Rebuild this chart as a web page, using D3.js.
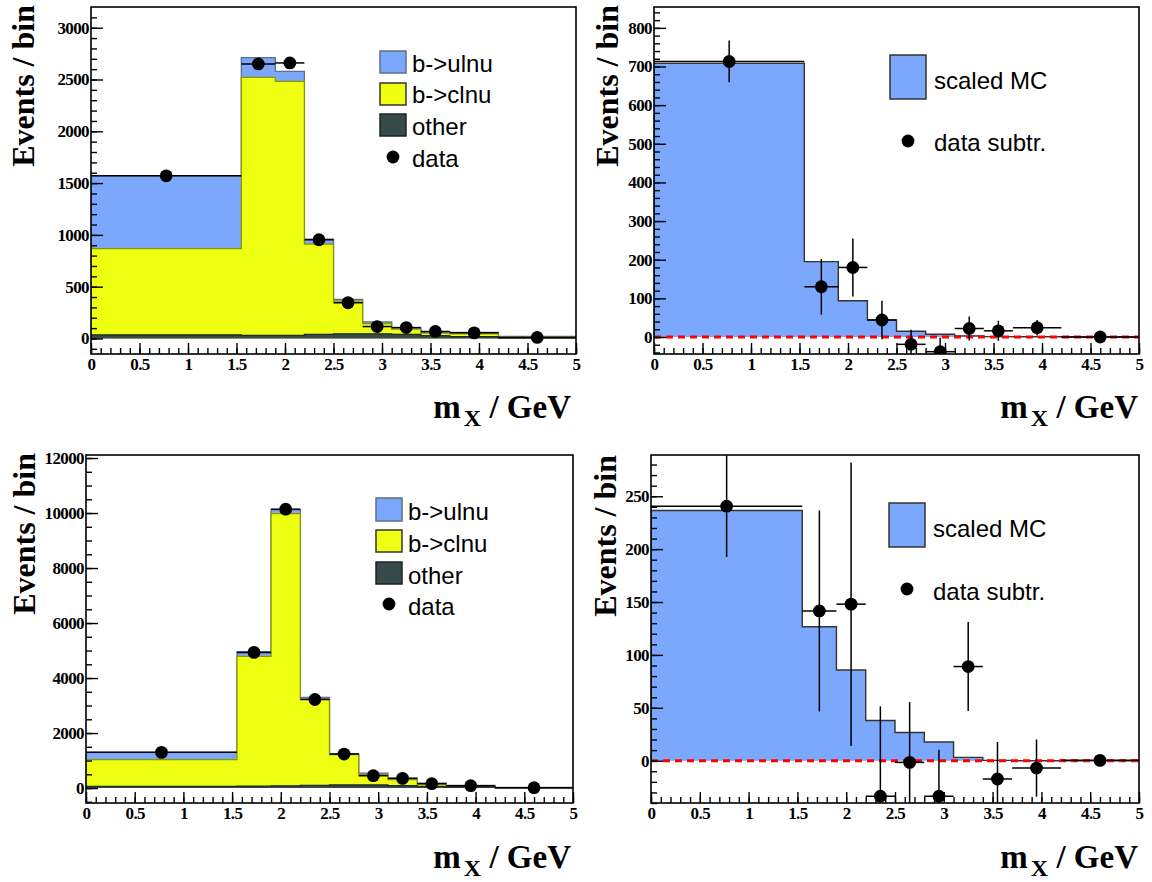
<!DOCTYPE html>
<html><head><meta charset="utf-8">
<script src="https://cdn.jsdelivr.net/npm/d3@7"></script>
<style>
  body { margin: 0; background: #fff; }
  svg { display: block; }
</style>
</head><body>
<svg id="fig" width="1152" height="882"></svg>
<script>
// m_X binning shared by all four histograms (GeV)
const binEdges   = [0, 1.55, 1.9, 2.2, 2.5, 2.8, 3.1, 3.4, 3.7, 4.2, 5.0];
const binCenters = [0.775, 1.725, 2.05, 2.35, 2.65, 2.95, 3.25, 3.55, 3.95, 4.6];

// Upper row: stacked MC components and data
const upOther = [35, 30, 30, 40, 45, 45, 40, 28, 18, 6];
const upClnu  = [832, 2490, 2452, 871, 316, 99, 50, 23, 27, 6];
const upUlnu  = [703, 192, 96, 48, 16, 16, 15, 13, 13, 7];
const upData  = [1570, 2650, 2660, 953, 345, 115, 105, 67, 54, 10];

// Upper row: background-subtracted data vs scaled b->ulnu MC
const upMC      = [708, 195, 94, 44, 15, 7, 3, 1, 0.5, 0];
const upSub     = [713, 130, 180, 44, -19, -38, 22, 16, 24, 0];
const upSubErr  = [54, 72, 75, 50, 38, 36, 31, 26, 20, 6];

// Lower row: stacked MC components and data
const loOther = [60, 70, 80, 100, 110, 110, 90, 60, 40, 10];
const loClnu  = [970, 4718, 9896, 3136, 1102, 375, 213, 85, 33, 8];
const loUlnu  = [267, 170, 145, 61, 36, 60, 61, 37, 24, 6];
const loData  = [1297, 4933, 10140, 3220, 1236, 448, 352, 158, 85, 12];

// Lower row: background-subtracted data vs scaled b->ulnu MC
const loMC     = [236.5, 126.6, 85.7, 38, 26.7, 17.6, 3.1, 0.3, 0, 0];
const loSub    = [240.6, 141.6, 148, -33.6, -1.6, -33.6, 89, -17.3, -7, 0.3];
const loSubErr = [48, 95, 134, 85, 57, 44, 42, 35, 27, 3];

// Axis tick values
const xTicks        = [0, 0.5, 1, 1.5, 2, 2.5, 3, 3.5, 4, 4.5, 5];
const yTicksUpStack = [0, 500, 1000, 1500, 2000, 2500, 3000];
const yTicksUpSub   = [0, 100, 200, 300, 400, 500, 600, 700, 800];
const yTicksLoStack = [0, 2000, 4000, 6000, 8000, 10000, 12000];
const yTicksLoSub   = [0, 50, 100, 150, 200, 250];

// Legend entries
const stackLegend = ["b->ulnu", "b->clnu", "other", "data"];
const subLegend   = ["scaled MC", "data subtr."];

const COL = {
  ulnu: "#7ba8fd", clnu: "#eeff11", other: "#364a4a",
  ulnuLine: "#5f6f86", clnuLine: "#8f9400", otherLine: "#1f2a2a"
};
const serif = "'Liberation Serif', 'Times New Roman', serif";
const sans  = "'Liberation Sans', Arial, Helvetica, sans-serif";

const svg = d3.select("#fig");

const panels = [
  { id: "p1", kind: "stack", box: {l: 91, r: 576, t: 7, b: 354}, ydom: [-150, 3200],
    yMajor: yTicksUpStack, yMinor: 100, other: upOther, clnu: upClnu, ulnu: upUlnu, data: upData,
    yTitle: {x: 34, y: 5}, xTitle: {x: 571, y: 418},
    leg: {bx: 380, bw: 26, tx: 412, rows: [{b: 51, h: 22, base: 72}, {b: 83, h: 22, base: 103}, {b: 114, h: 22, base: 135}], marker: {x: 393, y: 157}, dataBase: 167} },
  { id: "p2", kind: "sub", box: {l: 654, r: 1139, t: 7, b: 354}, ydom: [-44, 854],
    yMajor: yTicksUpSub, yMinor: 20, mc: upMC, sub: upSub, err: upSubErr,
    yTitle: {x: 618, y: 5}, xTitle: {x: 1138, y: 418},
    leg: {box: {x: 890, y: 55, w: 36, h: 44}, tx: 934, base1: 89, marker: {x: 908, y: 141}, base2: 151} },
  { id: "p3", kind: "stack", box: {l: 86, r: 573, t: 455, b: 803}, ydom: [-544, 12110],
    yMajor: yTicksLoStack, yMinor: 500, other: loOther, clnu: loClnu, ulnu: loUlnu, data: loData,
    yTitle: {x: 35, y: 453}, xTitle: {x: 571, y: 868},
    leg: {bx: 376, bw: 26, tx: 408, rows: [{b: 498, h: 23, base: 520}, {b: 530, h: 22, base: 552}, {b: 562, h: 22, base: 584}], marker: {x: 389, y: 604}, dataBase: 615} },
  { id: "p4", kind: "sub", box: {l: 651, r: 1139, t: 455, b: 803}, ydom: [-40, 289],
    yMajor: yTicksLoSub, yMinor: 10, mc: loMC, sub: loSub, err: loSubErr,
    yTitle: {x: 616, y: 455}, xTitle: {x: 1138, y: 868},
    leg: {box: {x: 889, y: 503, w: 36, h: 44}, tx: 933, base1: 537, marker: {x: 907, y: 589}, base2: 600} }
];

// Step outline through bin contents, dropping to zero at both ends
function stepPoints(vals) {
  const pts = [[binEdges[0], 0]];
  vals.forEach((v, i) => { pts.push([binEdges[i], v]); pts.push([binEdges[i + 1], v]); });
  pts.push([binEdges[binEdges.length - 1], 0]);
  return pts;
}

function drawPanel(p) {
  const x = d3.scaleLinear().domain([0, 5]).range([p.box.l, p.box.r]);
  const y = d3.scaleLinear().domain(p.ydom).range([p.box.b, p.box.t]);
  const g = svg.append("g");

  g.append("clipPath").attr("id", "clip-" + p.id)
    .append("rect").attr("x", p.box.l).attr("y", p.box.t)
    .attr("width", p.box.r - p.box.l).attr("height", p.box.b - p.box.t);
  const plot = g.append("g").attr("clip-path", `url(#clip-${p.id})`);

  const area = d3.area().x(d => x(d[0])).y0(y(0)).y1(d => y(d[1]));
  const line = d3.line().x(d => x(d[0])).y(d => y(d[1]));

  if (p.kind === "stack") {
    const clnuTop = p.other.map((v, i) => v + p.clnu[i]);
    const ulnuTop = clnuTop.map((v, i) => v + p.ulnu[i]);
    [[ulnuTop, COL.ulnu, COL.ulnuLine], [clnuTop, COL.clnu, COL.clnuLine], [p.other, COL.other, COL.otherLine]]
      .forEach(([vals, fill, stroke]) => {
        const pts = stepPoints(vals);
        plot.append("path").attr("d", area(pts)).attr("fill", fill);
        plot.append("path").attr("d", line(pts)).attr("fill", "none")
          .attr("stroke", stroke).attr("stroke-width", 1.3);
      });
    // data with bin-width horizontal bars
    const pts = p.data.map((v, i) => ({v, i}));
    plot.selectAll("line.xerr").data(pts).join("line")
      .attr("x1", d => x(binEdges[d.i])).attr("x2", d => x(binEdges[d.i + 1]))
      .attr("y1", d => y(d.v)).attr("y2", d => y(d.v))
      .attr("stroke", "#000").attr("stroke-width", 1.5);
    plot.selectAll("circle.pt").data(pts).join("circle")
      .attr("cx", d => x(binCenters[d.i])).attr("cy", d => y(d.v)).attr("r", 6.4).attr("fill", "#000");
  } else {
    const pts = stepPoints(p.mc);
    plot.append("path").attr("d", area(pts)).attr("fill", COL.ulnu);
    plot.append("path").attr("d", line(pts)).attr("fill", "none")
      .attr("stroke", "#333").attr("stroke-width", 1.4);
    plot.append("line").attr("x1", x(0)).attr("x2", x(5)).attr("y1", y(0)).attr("y2", y(0))
      .attr("stroke", "#ff0000").attr("stroke-width", 3).attr("stroke-dasharray", "7,5");
    const dp = p.sub.map((v, i) => ({v, i, e: p.err[i]}));
    plot.selectAll("line.xerr").data(dp).join("line")
      .attr("x1", d => x(binEdges[d.i])).attr("x2", d => x(binEdges[d.i + 1]))
      .attr("y1", d => y(d.v)).attr("y2", d => y(d.v))
      .attr("stroke", "#000").attr("stroke-width", 1.5);
    plot.selectAll("line.yerr").data(dp).join("line")
      .attr("x1", d => x(binCenters[d.i])).attr("x2", d => x(binCenters[d.i]))
      .attr("y1", d => y(d.v - d.e)).attr("y2", d => y(d.v + d.e))
      .attr("stroke", "#000").attr("stroke-width", 1.5);
    plot.selectAll("circle.pt").data(dp).join("circle")
      .attr("cx", d => x(binCenters[d.i])).attr("cy", d => y(d.v)).attr("r", 6.4).attr("fill", "#000");
  }

  // axes: ticks point into the frame
  const yMinorVals = d3.range(Math.ceil(p.ydom[0] / p.yMinor) * p.yMinor, p.ydom[1], p.yMinor);
  const xMinorVals = d3.range(0, 5.0001, 0.1);
  g.append("g").attr("transform", `translate(${p.box.l},0)`)
    .call(d3.axisLeft(y).tickValues(yMinorVals).tickSizeInner(-6).tickSizeOuter(0).tickFormat(""));
  g.append("g").attr("transform", `translate(${p.box.l},0)`)
    .call(d3.axisLeft(y).tickValues(p.yMajor).tickSizeInner(-12).tickSizeOuter(0).tickPadding(2)
      .tickFormat(d3.format("d")));
  g.append("g").attr("transform", `translate(0,${p.box.b})`)
    .call(d3.axisBottom(x).tickValues(xMinorVals).tickSizeInner(-6).tickSizeOuter(0).tickFormat(""));
  g.append("g").attr("transform", `translate(0,${p.box.b})`)
    .call(d3.axisBottom(x).tickValues(xTicks).tickSizeInner(-11).tickSizeOuter(0).tickPadding(4)
      .tickFormat(d => String(d)));
  g.selectAll(".domain").remove();
  g.selectAll(".tick line").attr("stroke", "#000").attr("stroke-width", 1.4);
  g.selectAll(".tick text").attr("font-family", serif).attr("font-weight", "bold")
    .attr("font-size", 17).attr("letter-spacing", "-0.6px").attr("fill", "#000");

  // frame
  g.append("rect").attr("x", p.box.l).attr("y", p.box.t)
    .attr("width", p.box.r - p.box.l).attr("height", p.box.b - p.box.t)
    .attr("fill", "none").attr("stroke", "#000").attr("stroke-width", 1.6);

  // axis titles
  g.append("text").attr("transform", `translate(${p.yTitle.x},${p.yTitle.y}) rotate(-90)`)
    .attr("text-anchor", "end").attr("font-family", serif).attr("font-weight", "bold")
    .attr("font-size", 32).text("Events / bin");
  const xt = g.append("text").attr("x", p.xTitle.x).attr("y", p.xTitle.y)
    .attr("text-anchor", "end").attr("font-family", serif).attr("font-weight", "bold").attr("font-size", 33);
  xt.append("tspan").text("m");
  xt.append("tspan").attr("font-size", 24).attr("dx", 3).attr("dy", 8).text("X");
  xt.append("tspan").attr("dy", -8).text(" / GeV");

  // legend
  const L = p.leg;
  if (p.kind === "stack") {
    const fills = [[COL.ulnu, COL.ulnuLine], [COL.clnu, "#333"], [COL.other, "#222"]];
    L.rows.forEach((r, i) => {
      g.append("rect").attr("x", L.bx).attr("y", r.b).attr("width", L.bw).attr("height", r.h)
        .attr("fill", fills[i][0]).attr("stroke", fills[i][1]).attr("stroke-width", 1.5);
      g.append("text").attr("x", L.tx).attr("y", r.base).attr("font-family", sans)
        .attr("font-size", 24).text(stackLegend[i]);
    });
    g.append("circle").attr("cx", L.marker.x).attr("cy", L.marker.y).attr("r", 6.4).attr("fill", "#000");
    g.append("text").attr("x", L.tx).attr("y", L.dataBase).attr("font-family", sans)
      .attr("font-size", 24).text(stackLegend[3]);
  } else {
    g.append("rect").attr("x", L.box.x).attr("y", L.box.y).attr("width", L.box.w).attr("height", L.box.h)
      .attr("fill", COL.ulnu).attr("stroke", "#333").attr("stroke-width", 1.5);
    g.append("text").attr("x", L.tx).attr("y", L.base1).attr("font-family", sans)
      .attr("font-size", 24).text(subLegend[0]);
    g.append("circle").attr("cx", L.marker.x).attr("cy", L.marker.y).attr("r", 6.4).attr("fill", "#000");
    g.append("text").attr("x", L.tx).attr("y", L.base2).attr("font-family", sans)
      .attr("font-size", 24).text(subLegend[1]);
  }
}

panels.forEach(drawPanel);
</script>
</body></html>
